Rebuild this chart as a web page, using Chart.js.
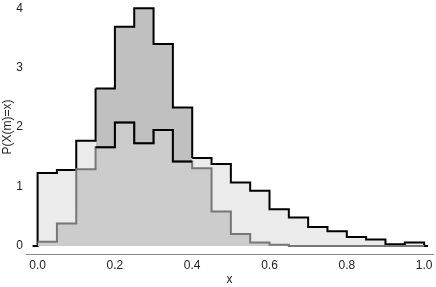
<!DOCTYPE html>
<html>
<head>
<meta charset="utf-8">
<script src="https://cdn.jsdelivr.net/npm/chart.js@4.4.1/dist/chart.umd.min.js"></script>
<style>
  html, body { margin: 0; padding: 0; background: #fff; }
  #wrap { width: 436px; height: 287px; }
</style>
</head>
<body>
<div id="wrap"><canvas id="chart"></canvas></div>
<script>
// bin left edges (width 0.05)
const binEdges = [0, 0.05, 0.1, 0.15, 0.2, 0.25, 0.3, 0.35, 0.4, 0.45,
                  0.5, 0.55, 0.6, 0.65, 0.7, 0.75, 0.8, 0.85, 0.9, 0.95];
const binWidth = 0.05;

// black histogram (wide, with the peak)
const blackVals = [1.23, 1.28, 1.77, 2.65, 3.69, 4.0, 3.40, 2.33, 1.48, 1.38,
                   1.07, 0.93, 0.62, 0.48, 0.32, 0.25, 0.15, 0.11, 0.03, 0.06];
// grey histogram
const greyVals = [0.07, 0.38, 1.29, 1.66, 2.08, 1.73, 1.95, 1.42, 1.31, 0.58,
                  0.20, 0.06, 0.02, 0, 0, 0, 0, 0, 0, 0];
// bins where the peak is shaded darker
const peakBins = [3, 4, 5, 6, 7];

const xTicks = [0, 0.2, 0.4, 0.6, 0.8, 1.0];
const yTicks = [0, 1, 2, 3, 4];

const FONT = { family: '"Liberation Sans", Arial, sans-serif', size: 12 };
const TEXT = '#222';

const lastEdge = binEdges[binEdges.length - 1] + binWidth;
const peakStart = binEdges[peakBins[0]];
const peakEnd = binEdges[peakBins[peakBins.length - 1]] + binWidth;

// stepped: true -> each point's value holds until the next point
const blackPts = [{ x: -0.013, y: 0 }]
  .concat(binEdges.map((x, i) => ({ x, y: blackVals[i] })))
  .concat([{ x: lastEdge, y: 0 }, { x: lastEdge + 0.01, y: 0 }]);

const greyPts = binEdges.map((x, i) => ({ x, y: greyVals[i] }))
  .concat([{ x: lastEdge, y: 0 }]);

// black outline over the grey histogram inside the peak bins
const innerPts = peakBins.map(i => ({ x: binEdges[i], y: greyVals[i] }));
innerPts.push({ x: peakEnd, y: greyVals[peakBins[peakBins.length - 1]] });

const lineBase = { stepped: true, pointRadius: 0, borderWidth: 2 };

new Chart(document.getElementById('chart'), {
  type: 'line',
  data: {
    datasets: [
      Object.assign({ data: innerPts, borderColor: '#000', fill: false }, lineBase),
      Object.assign({ data: greyPts, borderColor: '#777', backgroundColor: '#cccccc', fill: 'origin' }, lineBase),
      Object.assign({
        data: blackPts,
        borderColor: '#000',
        backgroundColor: '#ebebeb',
        fill: 'origin',
        segment: {
          backgroundColor: ctx => {
            const x = ctx.p0.parsed.x;
            return (x > peakStart - 1e-9 && x < peakEnd - 1e-9) ? '#c0c0c0' : undefined;
          }
        }
      }, lineBase)
    ]
  },
  options: {
    responsive: true,
    maintainAspectRatio: false,
    animation: false,
    layout: { padding: { top: 0, right: 3, left: 0, bottom: 0 } },
    plugins: { legend: { display: false }, tooltip: { enabled: false } },
    scales: {
      x: {
        type: 'linear',
        min: -0.03,
        max: 1.023,
        afterBuildTicks: s => { s.ticks = xTicks.map(v => ({ value: v })); },
        afterFit: s => { s.height = 33; s.paddingLeft = 0; s.paddingRight = 0; },
        grid: { display: false, drawTicks: false },
        border: { display: true, color: '#888', width: 1 },
        ticks: { font: FONT, color: TEXT, padding: 4, maxRotation: 0,
                 callback: v => v.toFixed(1) },
        title: { display: true, text: 'x', font: FONT, color: TEXT, padding: { top: 2, bottom: 0 } }
      },
      y: {
        min: -0.135,
        max: 4.14,
        afterBuildTicks: s => { s.ticks = yTicks.map(v => ({ value: v })); },
        afterFit: s => { s.width = 26; s.paddingTop = 0; s.paddingBottom = 0; },
        grid: { display: false, drawTicks: false },
        border: { display: false },
        ticks: { font: FONT, color: TEXT, padding: 3 },
        title: { display: true, text: 'P(X(m)=x)', font: FONT, color: TEXT, padding: 0 }
      }
    }
  }
});
</script>
</body>
</html>
